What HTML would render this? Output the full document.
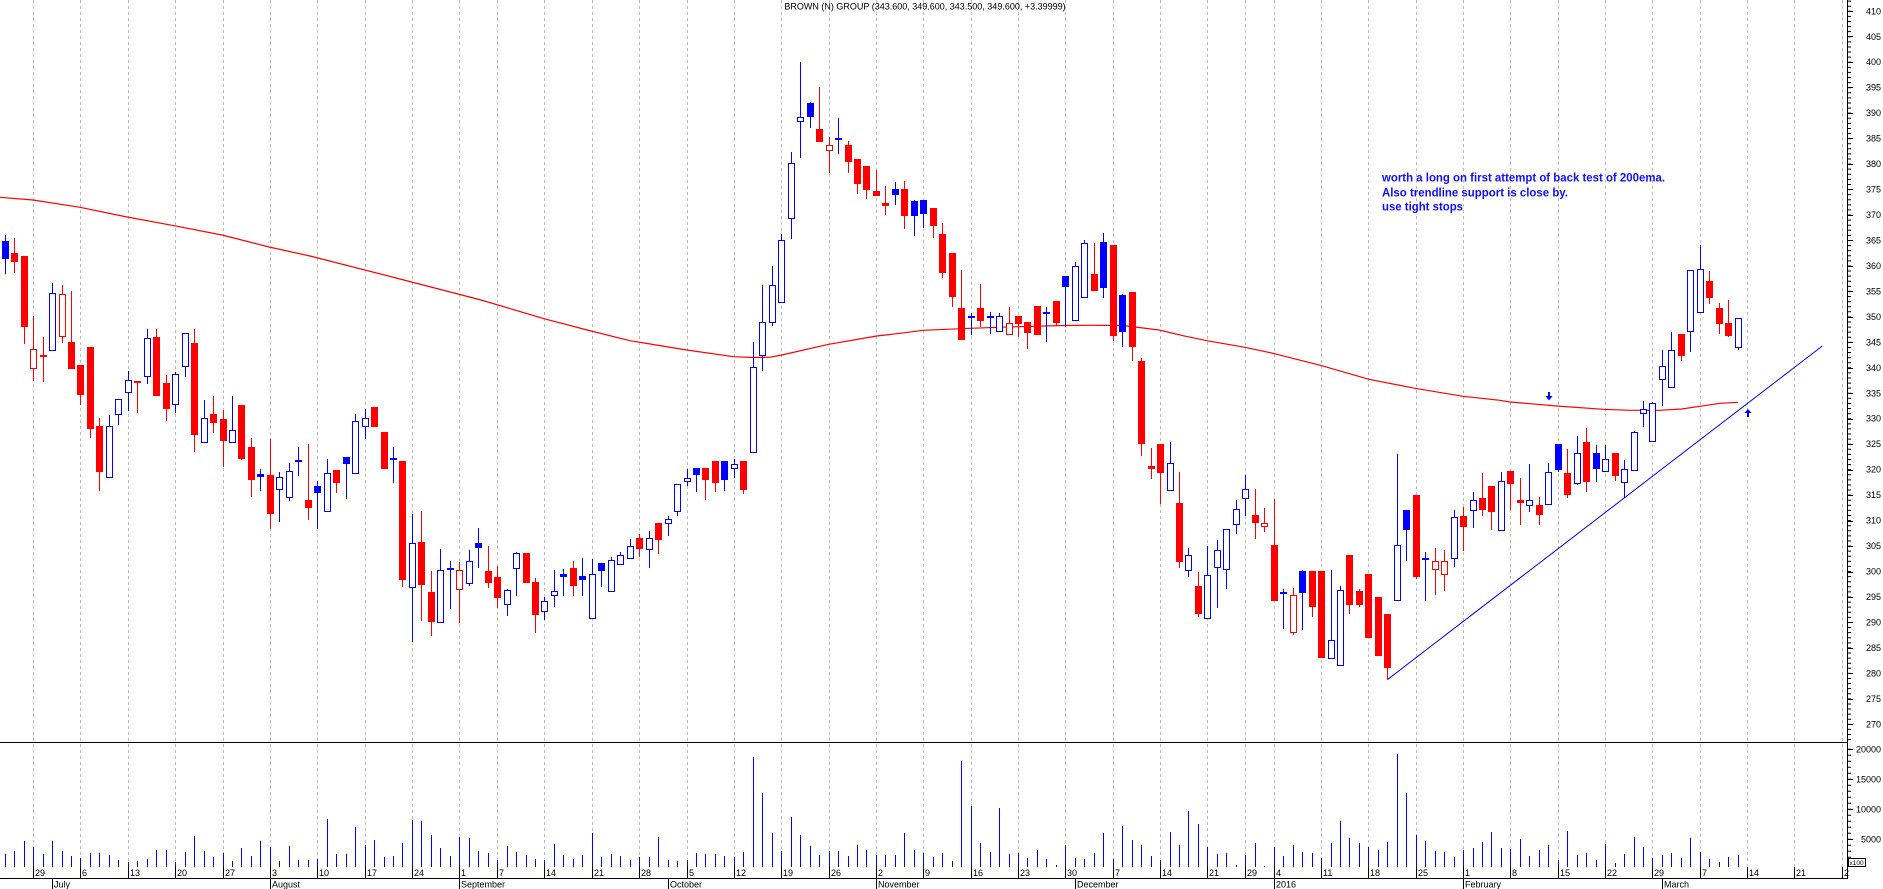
<!DOCTYPE html>
<html><head><meta charset="utf-8"><style>
html,body{margin:0;padding:0;background:#fff;}
svg{display:block;}
text{font-family:"Liberation Sans",Arial,sans-serif;}
.ax{font-size:9px;fill:#000;}
.hb{fill:#fff;stroke:#0000ff;stroke-width:1;}
.hr{fill:#fff;stroke:#ff0000;stroke-width:1;}
</style></head><body>
<svg width="1883" height="889" viewBox="0 0 1883 889" xmlns="http://www.w3.org/2000/svg">
<rect width="1883" height="889" fill="#fff"/>
<!-- grid -->
<path shape-rendering="crispEdges" stroke="#bdbdbd" stroke-width="1" stroke-dasharray="3,3" fill="none" d="M33.5 0V867M80.5 0V867M128.5 0V867M175.5 0V867M223.5 0V867M270.5 0V867M317.5 0V867M365.5 0V867M412.5 0V867M459.5 0V867M497.5 0V867M544.5 0V867M592.5 0V867M639.5 0V867M687.5 0V867M734.5 0V867M781.5 0V867M829.5 0V867M876.5 0V867M923.5 0V867M971.5 0V867M1018.5 0V867M1065.5 0V867M1113.5 0V867M1160.5 0V867M1207.5 0V867M1245.5 0V867M1274.5 0V867M1321.5 0V867M1368.5 0V867M1416.5 0V867M1463.5 0V867M1510.5 0V867M1558.5 0V867M1605.5 0V867M1652.5 0V867M1700.5 0V867M1747.5 0V867M1794.5 0V867M1842.5 0V867"/>
<!-- title -->
<text x="925" y="9.5" text-anchor="middle" class="ax">BROWN (N) GROUP (343.600, 349.600, 343.500, 349.600, +3.39999)</text>
<!-- EMA -->
<polyline fill="none" stroke="#ff0000" stroke-width="1.2" points="0,197.3 33,200 80,207.3 127,217 174,225.7 222,235 269,247 310,256 400,279 481,300 544,318.7 591,331 630,340.7 686.7,350 733.7,356.7 752,357.5 770,357.3 781.7,355 828.7,344.3 876.7,336 900,333.3 923,330.3 970,328.3 1017,326.7 1064,325.5 1090,325.3 1123,325.5 1159,330 1183,335.7 1207,340.7 1245,347.3 1273,353.3 1321.7,365.7 1369,379.3 1415,388.3 1463,396.3 1500,400.3 1510,402 1556.7,406 1603.3,409.3 1630,410.3 1660,410.3 1681.7,409 1700,406.3 1720,403.3 1738,402.3"/>
<!-- trendline -->
<line x1="1387.3" y1="679.7" x2="1822.3" y2="346" stroke="#0000ff" stroke-width="1"/>
<g shape-rendering="crispEdges">
<!-- red wicks -->
<path stroke="#ff0000" stroke-width="1" fill="none" d="M14.5 238V273M24.5 256V344M33.5 316V381M43.5 337V382M62.5 285V343M71.5 291V369M80.5 365V405M90.5 347V438M99.5 418V491M137.5 381V413M156.5 329V396M166.5 375V421M194.5 329V452M213.5 396V433M223.5 410V467M241.5 405V460M251.5 438V497M270.5 439V529M308.5 444V520M336.5 470V493M374.5 407V427M384.5 432V469M402.5 461V587M421.5 511V621M431.5 571V636M459.5 562V623M488.5 546V588M497.5 566V608M526.5 553V583M535.5 578V633M573.5 561V596M639.5 534V557M658.5 523V554M705.5 468V500M715.5 461V492M743.5 461V494M819.5 87V142M829.5 137V173M848.5 141V173M857.5 159V194M866.5 166V199M876.5 170V196M885.5 186V215M904.5 181V229M933.5 208V238M942.5 223V278M952.5 253V307M961.5 270V340M980.5 284V327M1009.5 307V335M1018.5 316V337M1027.5 322V349M1037.5 306V335M1056.5 301V325M1094.5 243V291M1113.5 245V341M1132.5 292V361M1141.5 358V456M1151.5 448V479M1160.5 444V504M1179.5 472V568M1198.5 572V617M1255.5 489V539M1264.5 508V532M1274.5 499V601M1293.5 588V635M1312.5 571V617M1321.5 571V658M1349.5 555V614M1359.5 589V607M1368.5 574V638M1378.5 597V656M1387.5 614V680M1416.5 495V579M1435.5 548V595M1444.5 550V591M1463.5 507V551M1482.5 473V516M1491.5 486V530M1510.5 471V510M1520.5 478V525M1539.5 497V525M1567.5 449V498M1586.5 428V492M1615.5 453V481M1681.5 334V361M1709.5 271V304M1719.5 303V334M1728.5 300V337"/>
<!-- blue wicks -->
<path stroke="#0000ff" stroke-width="1" fill="none" d="M5.5 235V274M52.5 283V351M109.5 415V478M118.5 399V425M128.5 371V411M147.5 329V384M175.5 372V413M185.5 333V377M204.5 400V443M232.5 396V443M260.5 469V491M279.5 472V522M289.5 463V501M298.5 447V476M317.5 481V529M327.5 459V512M346.5 457V499M355.5 414V474M365.5 409V439M393.5 447V483M412.5 514V642M440.5 549V623M450.5 561V609M469.5 550V586M478.5 528V568M507.5 589V616M516.5 552V596M544.5 597V620M554.5 570V607M563.5 569V596M582.5 558V596M592.5 559V619M601.5 563V587M611.5 557V592M620.5 552V565M630.5 539V559M649.5 531V568M668.5 516V536M677.5 484V516M687.5 469V486M696.5 468V492M724.5 461V491M734.5 459V478M753.5 342V453M762.5 285V371M772.5 266V326M781.5 234V303M791.5 152V239M800.5 62V158M810.5 102V128M838.5 118V154M895.5 182V205M914.5 200V236M923.5 200V228M971.5 313V335M990.5 312V334M999.5 313V332M1046.5 307V342M1065.5 276V327M1075.5 262V321M1084.5 240V298M1103.5 233V298M1122.5 294V347M1170.5 442V491M1188.5 548V577M1207.5 546V619M1217.5 540V608M1226.5 529V589M1236.5 500V534M1245.5 475V516M1283.5 589V629M1302.5 570V630M1331.5 570V659M1340.5 586V666M1397.5 454V601M1406.5 510V561M1425.5 552V601M1454.5 510V567M1473.5 492V528M1501.5 472V531M1529.5 464V512M1548.5 463V505M1558.5 444V472M1577.5 436V485M1596.5 445V482M1605.5 445V472M1624.5 460V498M1634.5 431V471M1643.5 401V427M1652.5 402V442M1662.5 350V406M1671.5 332V388M1690.5 270V352M1700.5 245V313M1738.5 318V350"/>
<!-- red filled bodies -->
<path fill="#ff0000" d="M11 253h7v9h-7zM21 256h7v71h-7zM40 355h7v2h-7zM68 342h7v27h-7zM77 365h7v30h-7zM87 347h7v82h-7zM96 426h7v46h-7zM134 381h7v2h-7zM153 337h7v59h-7zM163 383h7v26h-7zM191 343h7v92h-7zM210 414h7v9h-7zM220 419h7v22h-7zM238 405h7v54h-7zM248 447h7v33h-7zM267 475h7v39h-7zM305 500h7v8h-7zM333 470h7v13h-7zM371 407h7v20h-7zM381 432h7v37h-7zM399 461h7v119h-7zM418 542h7v43h-7zM428 592h7v30h-7zM485 571h7v12h-7zM494 577h7v21h-7zM523 553h7v30h-7zM532 582h7v33h-7zM570 568h7v18h-7zM636 538h7v11h-7zM655 523h7v17h-7zM702 468h7v12h-7zM712 461h7v22h-7zM740 461h7v29h-7zM816 129h7v13h-7zM845 145h7v17h-7zM854 159h7v25h-7zM863 166h7v24h-7zM873 191h7v5h-7zM882 203h7v3h-7zM901 189h7v27h-7zM930 208h7v18h-7zM939 234h7v39h-7zM949 253h7v44h-7zM958 308h7v32h-7zM977 308h7v13h-7zM1015 316h7v8h-7zM1024 322h7v11h-7zM1034 306h7v29h-7zM1053 301h7v22h-7zM1091 274h7v17h-7zM1110 245h7v91h-7zM1129 292h7v55h-7zM1138 361h7v83h-7zM1148 466h7v3h-7zM1157 444h7v29h-7zM1176 503h7v59h-7zM1195 586h7v28h-7zM1252 515h7v8h-7zM1271 545h7v56h-7zM1309 571h7v36h-7zM1318 571h7v87h-7zM1346 555h7v50h-7zM1356 591h7v14h-7zM1365 574h7v64h-7zM1375 597h7v59h-7zM1384 614h7v54h-7zM1413 495h7v82h-7zM1460 516h7v11h-7zM1479 498h7v12h-7zM1488 486h7v26h-7zM1507 471h7v13h-7zM1517 500h7v3h-7zM1536 505h7v10h-7zM1564 473h7v22h-7zM1583 442h7v40h-7zM1612 453h7v23h-7zM1678 334h7v22h-7zM1706 281h7v17h-7zM1716 308h7v16h-7zM1725 323h7v13h-7z"/>
<!-- blue filled bodies -->
<path fill="#0000ff" d="M2 241h7v18h-7zM257 474h7v3h-7zM295 460h7v2h-7zM314 486h7v7h-7zM343 457h7v7h-7zM390 458h7v2h-7zM447 568h7v2h-7zM475 543h7v5h-7zM560 574h7v3h-7zM579 576h7v4h-7zM598 563h7v8h-7zM693 468h7v7h-7zM721 461h7v19h-7zM807 103h7v14h-7zM892 189h7v6h-7zM911 201h7v15h-7zM920 200h7v14h-7zM968 316h7v2h-7zM987 316h7v2h-7zM1043 312h7v2h-7zM1062 276h7v11h-7zM1100 242h7v46h-7zM1119 295h7v37h-7zM1280 592h7v2h-7zM1299 571h7v22h-7zM1403 510h7v20h-7zM1422 558h7v2h-7zM1555 444h7v26h-7zM1593 453h7v16h-7z"/>
<!-- hollow red -->
<g class="hr">
<rect x="30.5" y="349.5" width="6" height="19"/><rect x="59.5" y="294.5" width="6" height="42"/><rect x="456.5" y="570.5" width="6" height="19"/><rect x="826.5" y="145.5" width="6" height="5"/><rect x="1006.5" y="323.5" width="6" height="11"/><rect x="1261.5" y="523.5" width="6" height="3"/><rect x="1290.5" y="595.5" width="6" height="37"/><rect x="1432.5" y="561.5" width="6" height="8"/><rect x="1441.5" y="561.5" width="6" height="13"/>
</g>
<!-- hollow blue -->
<g class="hb">
<rect x="49.5" y="293.5" width="6" height="57"/><rect x="106.5" y="426.5" width="6" height="51"/><rect x="115.5" y="399.5" width="6" height="15"/><rect x="125.5" y="380.5" width="6" height="12"/><rect x="144.5" y="338.5" width="6" height="38"/><rect x="172.5" y="374.5" width="6" height="30"/><rect x="182.5" y="333.5" width="6" height="33"/><rect x="201.5" y="418.5" width="6" height="24"/><rect x="229.5" y="430.5" width="6" height="12"/><rect x="276.5" y="477.5" width="6" height="12"/><rect x="286.5" y="471.5" width="6" height="26"/><rect x="324.5" y="473.5" width="6" height="38"/><rect x="352.5" y="421.5" width="6" height="52"/><rect x="362.5" y="418.5" width="6" height="8"/><rect x="409.5" y="543.5" width="6" height="44"/><rect x="437.5" y="570.5" width="6" height="52"/><rect x="466.5" y="561.5" width="6" height="22"/><rect x="504.5" y="590.5" width="6" height="14"/><rect x="513.5" y="553.5" width="6" height="15"/><rect x="541.5" y="601.5" width="6" height="10"/><rect x="551.5" y="591.5" width="6" height="4"/><rect x="589.5" y="574.5" width="6" height="44"/><rect x="608.5" y="560.5" width="6" height="31"/><rect x="617.5" y="555.5" width="6" height="9"/><rect x="627.5" y="546.5" width="6" height="12"/><rect x="646.5" y="538.5" width="6" height="11"/><rect x="665.5" y="519.5" width="6" height="4"/><rect x="674.5" y="484.5" width="6" height="27"/><rect x="684.5" y="478.5" width="6" height="3"/><rect x="731.5" y="464.5" width="6" height="4"/><rect x="750.5" y="367.5" width="6" height="85"/><rect x="759.5" y="322.5" width="6" height="33"/><rect x="769.5" y="285.5" width="6" height="37"/><rect x="778.5" y="240.5" width="6" height="62"/><rect x="788.5" y="163.5" width="6" height="55"/><rect x="797.5" y="117.5" width="6" height="4"/><rect x="835.5" y="138.5" width="6" height="1"/><rect x="996.5" y="316.5" width="6" height="15"/><rect x="1072.5" y="266.5" width="6" height="54"/><rect x="1081.5" y="243.5" width="6" height="54"/><rect x="1167.5" y="463.5" width="6" height="27"/><rect x="1185.5" y="555.5" width="6" height="15"/><rect x="1204.5" y="575.5" width="6" height="43"/><rect x="1214.5" y="550.5" width="6" height="17"/><rect x="1223.5" y="529.5" width="6" height="40"/><rect x="1233.5" y="509.5" width="6" height="15"/><rect x="1242.5" y="489.5" width="6" height="9"/><rect x="1328.5" y="640.5" width="6" height="18"/><rect x="1337.5" y="590.5" width="6" height="75"/><rect x="1394.5" y="545.5" width="6" height="55"/><rect x="1451.5" y="517.5" width="6" height="41"/><rect x="1470.5" y="500.5" width="6" height="10"/><rect x="1498.5" y="481.5" width="6" height="49"/><rect x="1526.5" y="500.5" width="6" height="5"/><rect x="1545.5" y="472.5" width="6" height="32"/><rect x="1574.5" y="453.5" width="6" height="30"/><rect x="1602.5" y="459.5" width="6" height="12"/><rect x="1621.5" y="469.5" width="6" height="13"/><rect x="1631.5" y="432.5" width="6" height="38"/><rect x="1640.5" y="409.5" width="6" height="4"/><rect x="1649.5" y="403.5" width="6" height="38"/><rect x="1659.5" y="366.5" width="6" height="13"/><rect x="1668.5" y="350.5" width="6" height="37"/><rect x="1687.5" y="270.5" width="6" height="61"/><rect x="1697.5" y="269.5" width="6" height="43"/><rect x="1735.5" y="318.5" width="6" height="29"/>
</g>
<!-- volume -->
<path stroke="#0000ff" stroke-width="1" fill="none" d="M5.5 867v-13M14.5 867v-16M24.5 867v-26M33.5 867v-20M43.5 867v-13M52.5 867v-26M62.5 867v-16M71.5 867v-11M80.5 867v-9M90.5 867v-14M99.5 867v-14M109.5 867v-12M118.5 867v-7M128.5 867v-5M137.5 867v-6M147.5 867v-8M156.5 867v-17M166.5 867v-17M175.5 867v-5M185.5 867v-15M194.5 867v-31M204.5 867v-16M213.5 867v-10M223.5 867v-14M232.5 867v-6M241.5 867v-19M251.5 867v-11M260.5 867v-26M270.5 867v-20M279.5 867v-6M289.5 867v-21M298.5 867v-7M308.5 867v-7M317.5 867v-8M327.5 867v-48M336.5 867v-13M346.5 867v-13M355.5 867v-40M365.5 867v-22M374.5 867v-27M384.5 867v-10M393.5 867v-11M402.5 867v-24M412.5 867v-47M421.5 867v-46M431.5 867v-32M440.5 867v-19M450.5 867v-11M459.5 867v-30M469.5 867v-29M478.5 867v-16M488.5 867v-14M497.5 867v-7M507.5 867v-21M516.5 867v-15M526.5 867v-12M535.5 867v-8M544.5 867v-7M554.5 867v-23M563.5 867v-12M573.5 867v-8M582.5 867v-12M592.5 867v-34M601.5 867v-10M611.5 867v-13M620.5 867v-11M630.5 867v-7M639.5 867v-10M649.5 867v-10M658.5 867v-30M668.5 867v-7M677.5 867v-6M687.5 867v-7M696.5 867v-14M705.5 867v-13M715.5 867v-13M724.5 867v-11M734.5 867v-10M743.5 867v-15M753.5 867v-110M762.5 867v-74M772.5 867v-34M781.5 867v-16M791.5 867v-50M800.5 867v-32M810.5 867v-21M819.5 867v-12M829.5 867v-16M838.5 867v-16M848.5 867v-11M857.5 867v-22M866.5 867v-17M876.5 867v-12M885.5 867v-12M895.5 867v-12M904.5 867v-34M914.5 867v-17M923.5 867v-14M933.5 867v-10M942.5 867v-14M952.5 867v-6M961.5 867v-106M971.5 867v-61M980.5 867v-24M990.5 867v-15M999.5 867v-59M1009.5 867v-13M1018.5 867v-14M1027.5 867v-9M1037.5 867v-17M1046.5 867v-8M1056.5 867v-2M1065.5 867v-22M1075.5 867v-9M1084.5 867v-8M1094.5 867v-14M1103.5 867v-34M1113.5 867v-8M1122.5 867v-41M1132.5 867v-27M1141.5 867v-22M1151.5 867v-11M1160.5 867v-7M1170.5 867v-35M1179.5 867v-22M1188.5 867v-56M1198.5 867v-43M1207.5 867v-20M1217.5 867v-13M1226.5 867v-14M1236.5 867v-2M1245.5 867v-12M1255.5 867v-24M1264.5 867v-1M1274.5 867v-20M1283.5 867v-11M1293.5 867v-22M1302.5 867v-15M1312.5 867v-14M1321.5 867v-9M1331.5 867v-24M1340.5 867v-46M1349.5 867v-29M1359.5 867v-24M1368.5 867v-20M1378.5 867v-17M1387.5 867v-25M1397.5 867v-113M1406.5 867v-74M1416.5 867v-32M1425.5 867v-26M1435.5 867v-16M1444.5 867v-15M1454.5 867v-10M1463.5 867v-17M1473.5 867v-19M1482.5 867v-25M1491.5 867v-35M1501.5 867v-19M1510.5 867v-18M1520.5 867v-28M1529.5 867v-11M1539.5 867v-17M1548.5 867v-22M1558.5 867v-7M1567.5 867v-36M1577.5 867v-12M1586.5 867v-14M1596.5 867v-7M1605.5 867v-23M1615.5 867v-4M1624.5 867v-13M1634.5 867v-30M1643.5 867v-20M1652.5 867v-9M1662.5 867v-12M1671.5 867v-14M1681.5 867v-9M1690.5 867v-29M1700.5 867v-15M1709.5 867v-8M1719.5 867v-5M1728.5 867v-10M1738.5 867v-12"/>
<!-- axes frame -->
<path stroke="#000" stroke-width="1" fill="none" d="M0 742.5H1847M0 878.5H1847M1847.5 0V879"/>
<!-- week ticks -->
<path stroke="#000" stroke-width="1" fill="none" d="M33.5 867V878M80.5 867V878M128.5 867V878M175.5 867V878M223.5 867V878M270.5 867V878M317.5 867V878M365.5 867V878M412.5 867V878M459.5 867V878M497.5 867V878M544.5 867V878M592.5 867V878M639.5 867V878M687.5 867V878M734.5 867V878M781.5 867V878M829.5 867V878M876.5 867V878M923.5 867V878M971.5 867V878M1018.5 867V878M1065.5 867V878M1113.5 867V878M1160.5 867V878M1207.5 867V878M1245.5 867V878M1274.5 867V878M1321.5 867V878M1368.5 867V878M1416.5 867V878M1463.5 867V878M1510.5 867V878M1558.5 867V878M1605.5 867V878M1652.5 867V878M1700.5 867V878M1747.5 867V878M1794.5 867V878M1842.5 867V878"/>
<!-- month ticks -->
<path stroke="#000" stroke-width="1" fill="none" d="M52.5 878V889M270.5 878V889M459.5 878V889M668.5 878V889M876.5 878V889M1075.5 878V889M1274.5 878V889M1463.5 878V889M1662.5 878V889"/>
<!-- right axis ticks -->
<path stroke="#000" stroke-width="1" fill="none" d="M1847 11.5h6M1847 36.5h6M1847 62.5h6M1847 87.5h6M1847 113.5h6M1847 138.5h6M1847 164.5h6M1847 189.5h6M1847 215.5h6M1847 240.5h6M1847 266.5h6M1847 291.5h6M1847 317.5h6M1847 342.5h6M1847 368.5h6M1847 393.5h6M1847 419.5h6M1847 444.5h6M1847 470.5h6M1847 495.5h6M1847 521.5h6M1847 546.5h6M1847 572.5h6M1847 597.5h6M1847 622.5h6M1847 648.5h6M1847 673.5h6M1847 699.5h6M1847 724.5h6M1847 749.5h6M1847 779.5h6M1847 809.5h6M1847 839.5h6"/>
</g>
<line x1="1849.5" y1="0.614" x2="1849.5" y2="742" stroke="#000" stroke-width="3" stroke-dasharray="1 4.093"/>
<line x1="1849.5" y1="748.8" x2="1849.5" y2="866" stroke="#000" stroke-width="3" stroke-dasharray="1 5"/>
<!-- price labels -->
<g class="ax" text-anchor="end">
<text x="1881" y="14.3">410</text><text x="1881" y="39.8">405</text><text x="1881" y="65.2">400</text><text x="1881" y="90.7">395</text><text x="1881" y="116.2">390</text><text x="1881" y="141.6">385</text><text x="1881" y="167.1">380</text><text x="1881" y="192.6">375</text><text x="1881" y="218">370</text><text x="1881" y="243.5">365</text><text x="1881" y="268.9">360</text><text x="1881" y="294.4">355</text><text x="1881" y="319.9">350</text><text x="1881" y="345.3">345</text><text x="1881" y="370.8">340</text><text x="1881" y="396.3">335</text><text x="1881" y="421.7">330</text><text x="1881" y="447.2">325</text><text x="1881" y="472.6">320</text><text x="1881" y="498.1">315</text><text x="1881" y="523.6">310</text><text x="1881" y="549">305</text><text x="1881" y="574.5">300</text><text x="1881" y="600">295</text><text x="1881" y="625.4">290</text><text x="1881" y="650.9">285</text><text x="1881" y="676.3">280</text><text x="1881" y="701.8">275</text><text x="1881" y="727.3">270</text>
<text x="1881" y="752.3">20000</text><text x="1881" y="782.3">15000</text><text x="1881" y="812.3">10000</text><text x="1881" y="842.3">5000</text>
</g>
<rect x="1848.5" y="858.5" width="17" height="8" fill="#fff" stroke="#000" stroke-width="1"/>
<text x="1849.5" y="865.2" style="font-size:6.5px;fill:#000">x100</text>
<!-- week labels -->
<g class="ax">
<text x="35" y="876">29</text><text x="82" y="876">6</text><text x="130" y="876">13</text><text x="177" y="876">20</text><text x="225" y="876">27</text><text x="272" y="876">3</text><text x="319" y="876">10</text><text x="367" y="876">17</text><text x="414" y="876">24</text><text x="461" y="876">1</text><text x="499" y="876">7</text><text x="546" y="876">14</text><text x="594" y="876">21</text><text x="641" y="876">28</text><text x="689" y="876">5</text><text x="736" y="876">12</text><text x="783" y="876">19</text><text x="831" y="876">26</text><text x="878" y="876">2</text><text x="925" y="876">9</text><text x="973" y="876">16</text><text x="1020" y="876">23</text><text x="1067" y="876">30</text><text x="1115" y="876">7</text><text x="1162" y="876">14</text><text x="1209" y="876">21</text><text x="1247" y="876">29</text><text x="1276" y="876">4</text><text x="1323" y="876">11</text><text x="1370" y="876">18</text><text x="1418" y="876">25</text><text x="1465" y="876">1</text><text x="1512" y="876">8</text><text x="1560" y="876">15</text><text x="1607" y="876">22</text><text x="1654" y="876">29</text><text x="1702" y="876">7</text><text x="1749" y="876">14</text><text x="1796" y="876">21</text><text x="1844" y="876">2</text>
<text x="54" y="887.3">July</text><text x="272" y="887.3">August</text><text x="461" y="887.3">September</text><text x="670" y="887.3">October</text><text x="878" y="887.3">November</text><text x="1077" y="887.3">December</text><text x="1276" y="887.3">2016</text><text x="1465" y="887.3">February</text><text x="1664" y="887.3">March</text>
</g>
<!-- arrows -->
<path fill="#0000ff" d="M1548 392h2v4h-2zM1545.5 396h7l-3.5 4.5z"/>
<path fill="#0000ff" d="M1748 409l3.5 4h-7zM1747 413h2v4h-2z"/>
<!-- annotation -->
<g style="font-size:12px;font-weight:bold;fill:#1010ff">
<text x="1382" y="181.7" textLength="283" lengthAdjust="spacingAndGlyphs">worth a long on first attempt of back test of 200ema.</text>
<text x="1382" y="196.7" textLength="186" lengthAdjust="spacingAndGlyphs">Also trendline support is close by.</text>
<text x="1382" y="210.5" textLength="81" lengthAdjust="spacingAndGlyphs">use tight stops</text>
</g>
</svg>
</body></html>
